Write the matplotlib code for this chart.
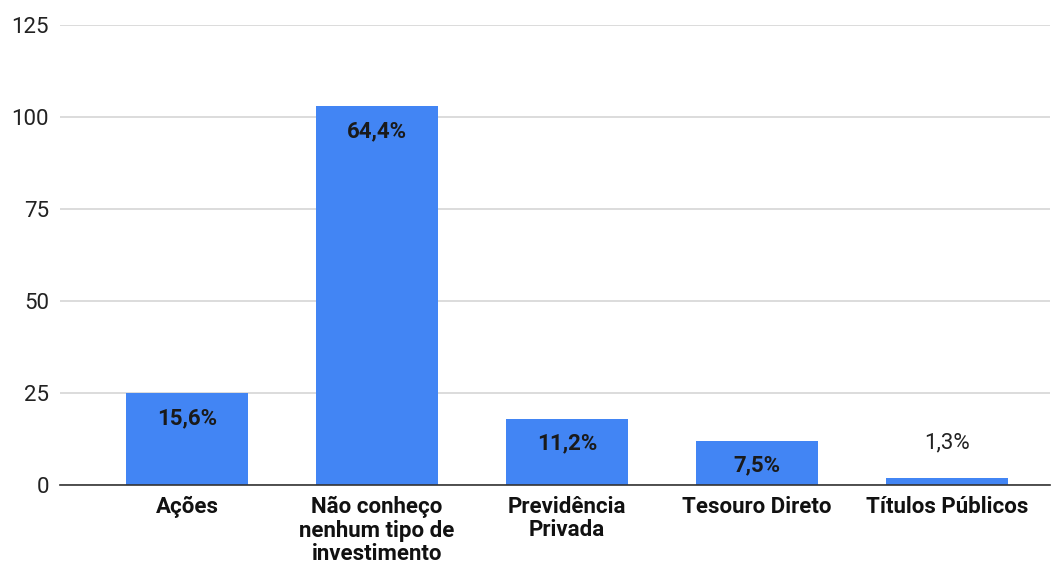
import matplotlib.pyplot as plt

categories = ["Ações", "Não conheço\nnenhum tipo de\ninvestimento", "Previdência\nPrivada",
              "Tesouro Direto", "Títulos Públicos"]
counts = [25, 103, 18, 12, 2]
pct_labels = ["15,6%", "64,4%", "11,2%", "7,5%", "1,3%"]
y_ticks = [0, 25, 50, 75, 100, 125]

plt.rcParams["font.family"] = ["Roboto", "DejaVu Sans"]

fig = plt.figure(figsize=(10.62, 5.72), dpi=100)
ax = fig.add_axes([60 / 1062, 1 - 485 / 572, 990 / 1062, 460 / 572])

x = list(range(len(categories)))
bars = ax.bar(x, counts, width=0.64, color="#4285F4", zorder=3)

ax.set_ylim(0, 125)
ax.set_xlim(-0.668, 4.542)
ax.set_yticks(y_ticks)
ax.set_yticklabels([str(t) for t in y_ticks], fontsize=16, color="#222222")
ax.set_xticks(x)
ax.set_xticklabels(categories, fontsize=16, fontweight="bold", color="#111111", linespacing=1.08)
ax.tick_params(axis="both", length=0)
ax.tick_params(axis="x", pad=8)
ax.tick_params(axis="y", pad=8)

ax.grid(axis="y", color="#d6d6d6", linewidth=1.2, zorder=0)
for s in ["top", "right", "left"]:
    ax.spines[s].set_visible(False)
ax.spines["bottom"].set_color("#333333")
ax.spines["bottom"].set_linewidth(1.2)
ax.spines["bottom"].set_zorder(4)

# labels go inside the bar, or above it when the bar is too short
for rect, val, lab in zip(bars, counts, pct_labels):
    cx = rect.get_x() + rect.get_width() / 2
    if val >= 8:
        ax.annotate(lab, (cx, val), xytext=(0, -18), textcoords="offset points",
                    ha="center", va="center", fontsize=16, fontweight="bold",
                    color="#1a1a1a", zorder=5)
    else:
        ax.annotate(lab, (cx, val), xytext=(0, 25), textcoords="offset points",
                    ha="center", va="center", fontsize=16, color="#222222", zorder=5)

fig.savefig("out.png", dpi=100)
